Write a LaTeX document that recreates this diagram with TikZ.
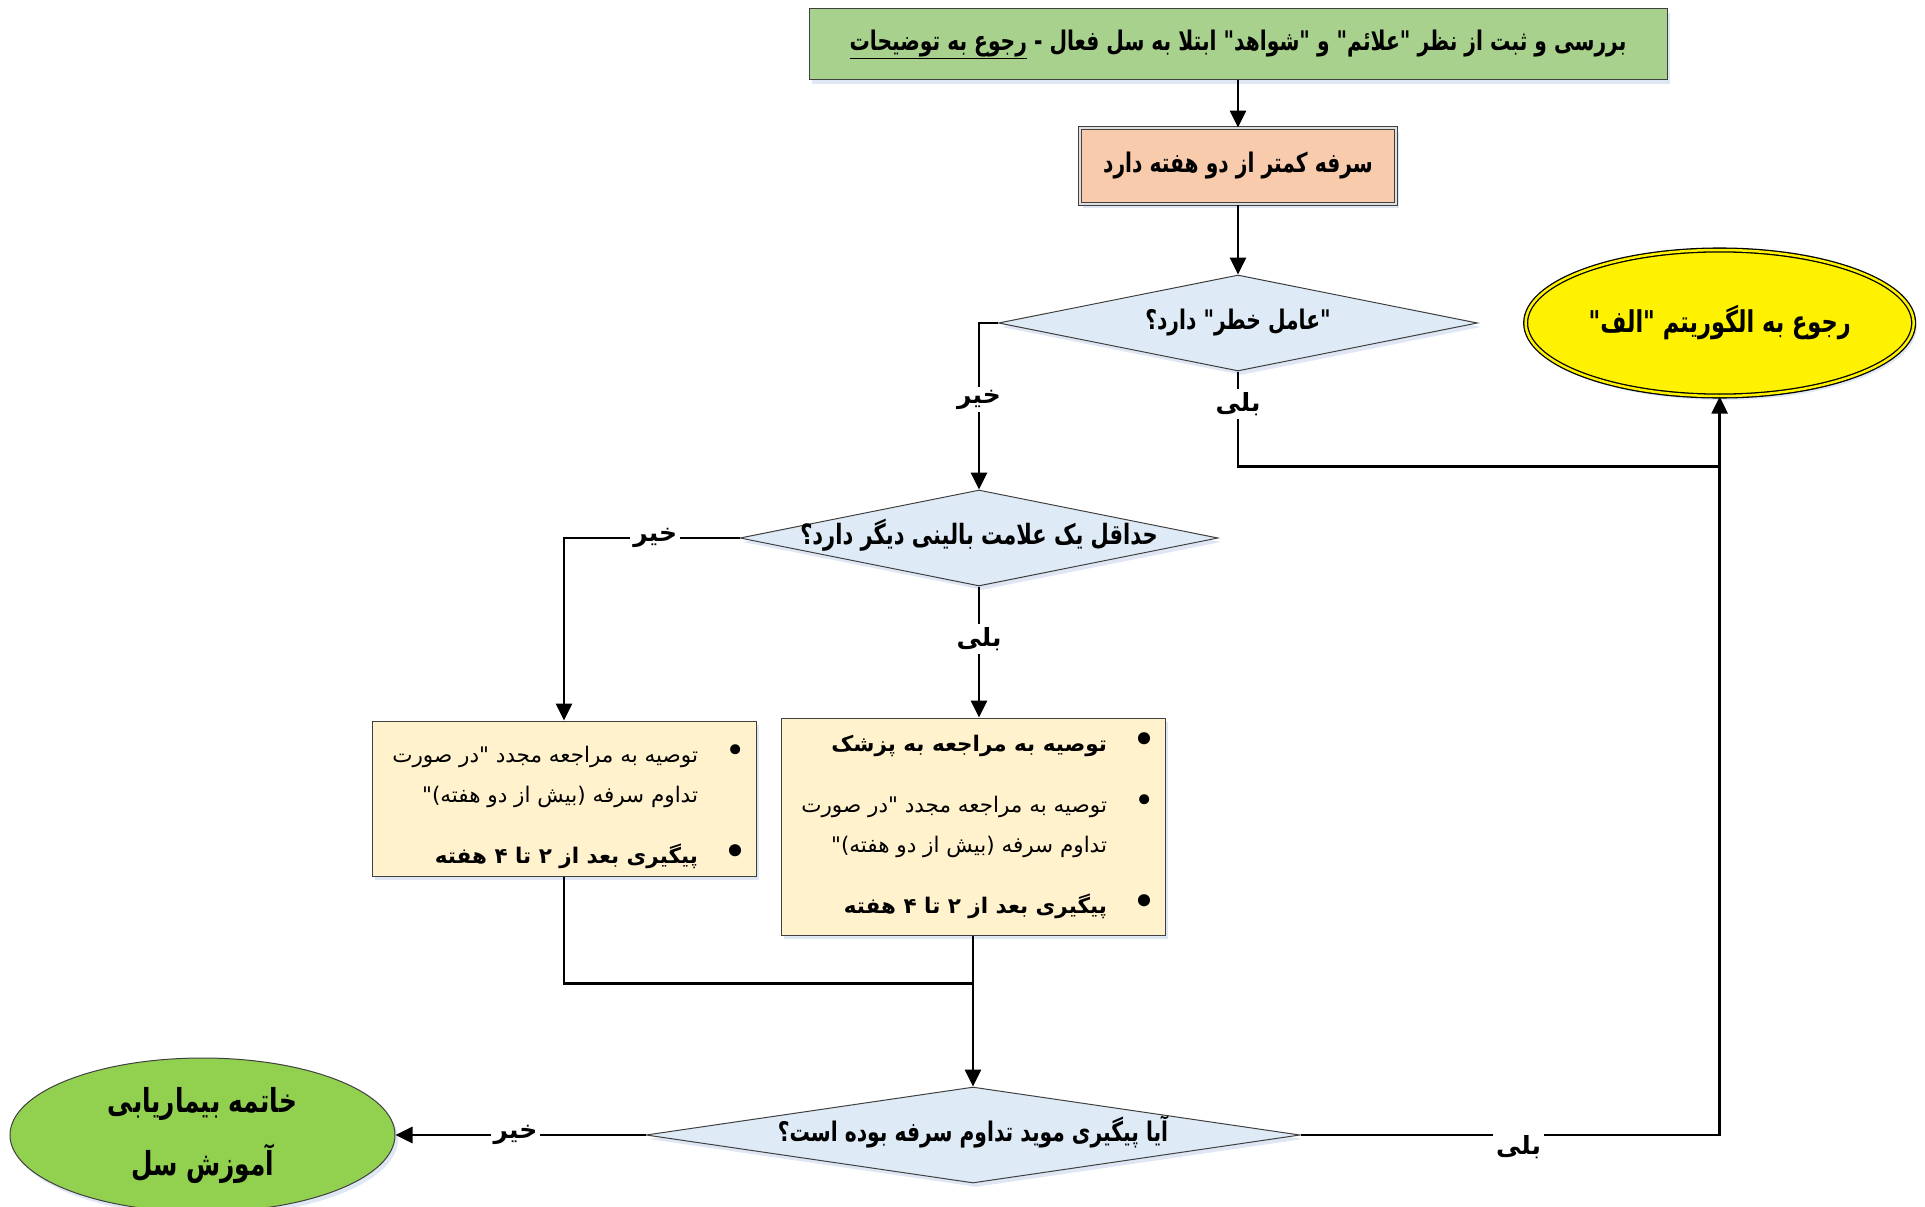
\documentclass[tikz,border=0pt]{standalone}
\usepackage{fontspec}
\usetikzlibrary{positioning,calc,arrows.meta,shapes.geometric,shadows}
\newfontfamily\arabicfont[Script=Arabic, FakeStretch=0.75]{DejaVu Sans}
\newfontfamily\arabicwide[Script=Arabic]{DejaVu Sans}
\TeXXeTstate=1
\newcommand{\fa}[1]{\beginR#1\endR}
\newcommand{\bul}{\makebox[58pt][r]{\smash{\scalebox{1.6}{\textbullet}}\hspace{10pt}}}
% bullet line and hanging line of the advice boxes
\newcommand{\bline}[1]{\makebox[384pt][r]{\beginR#1\endR\bul}}
\newcommand{\iline}[1]{\makebox[384pt][r]{\beginR#1\endR\hspace*{58pt}}}
\definecolor{boxline}{RGB}{64,64,64}
\definecolor{topgreen}{RGB}{169,209,142}
\definecolor{coughpink}{RGB}{248,203,173}
\definecolor{decblue}{RGB}{222,235,247}
\definecolor{notebox}{RGB}{255,242,204}
\definecolor{endgreen}{RGB}{146,208,80}
\definecolor{shadeblue}{RGB}{200,215,235}

\begin{document}
\begin{tikzpicture}[x=1pt, y=-1pt,
    softshade/.style={drop shadow={shadow xshift=3pt, shadow yshift=-4pt, fill=shadeblue, opacity=0.6}},
    stepbox/.style={rectangle, draw=boxline, line width=1pt, fill=#1, inner sep=0pt, softshade,
        font=\arabicfont\bfseries\fontsize{27}{30}\selectfont},
    stepbox/.default={topgreen},
    decide/.style={diamond, aspect=5, draw=boxline, fill=decblue, line width=1pt, inner sep=0pt,
        text height=12pt, text depth=0pt, softshade, font=\arabicfont\bfseries\fontsize{27}{30}\selectfont},
    notes/.style={rectangle, draw=boxline, line width=1pt, fill=notebox, inner sep=0pt, softshade,
        minimum width=384pt, align=right, font=\arabicwide\fontsize{21.5}{40}\selectfont},
    term/.style={ellipse, draw=boxline, line width=1pt, fill=#1, inner sep=0pt, softshade, align=center},
    lbl/.style={fill=white, inner sep=3pt, font=\arabicwide\bfseries\fontsize{25}{28}\selectfont},
    flowline/.style={line width=2.8pt},
    flowarr/.style={flowline, -{Triangle[length=17pt, width=16pt]}},
    ]
    \useasboundingbox (0,0) rectangle (1925,1207);

    %% screening steps
    \node[stepbox, minimum width=858pt, minimum height=71pt] (check) at (1238,44.5)
        {\fa{بررسی و ثبت از نظر "علائم" و "شواهد" ابتلا به سل فعال - \underline{\fa{رجوع به توضیحات}}}};
    \node[stepbox=coughpink, double=gray!25, double distance=2pt, minimum width=316pt, minimum height=76pt,
        below=47pt of check] (cough) {\fa{سرفه کمتر از دو هفته دارد}};

    %% decisions
    \node[decide, minimum width=479pt, minimum height=96pt, below=70pt of cough] (risk)
        {\fa{"عامل خطر" دارد؟}};
    \node[term=yellow, draw=black, double=yellow, double distance=2.5pt, line width=1.3pt,
        minimum width=388pt, minimum height=146pt, right=47pt of risk,
        font=\arabicfont\bfseries\fontsize{30}{33}\selectfont] (algA) {\fa{رجوع به  الگوریتم "الف"}};
    \node[decide, minimum width=478pt, minimum height=96pt, font=\arabicfont\bfseries\fontsize{28}{30}\selectfont]
        (sign) at (979,538) {\fa{حداقل یک علامت بالینی دیگر دارد؟}};

    %% advice boxes
    \node[notes, minimum height=217pt, below=131pt of sign, xshift=-6pt] (refer) {
        \bline{\bfseries توصیه به مراجعه به پزشک}\\[21pt]
        \bline{توصیه به مراجعه مجدد "در صورت}\\
        \iline{تداوم سرفه (بیش از دو هفته)"}\\[21pt]
        \bline{\bfseries پیگیری بعد از  ۲ تا ۴ هفته}
    };
    \node[notes, minimum height=155pt, left=24pt of refer.north west, anchor=north east, yshift=-3pt] (recheck) {
        \bline{توصیه به مراجعه مجدد "در صورت}\rule{0pt}{34pt}\\
        \iline{تداوم سرفه (بیش از دو هفته)"}\\[21pt]
        \bline{\bfseries پیگیری بعد از  ۲ تا ۴ هفته}
    };

    %% follow-up decision and end
    \node[decide, minimum width=654pt, minimum height=96pt, below=151pt of refer] (follow)
        {\fa{آیا پیگیری موید تداوم سرفه بوده است؟}};
    \node[term=endgreen, minimum width=385pt, minimum height=154pt, left=250pt of follow,
        font=\arabicfont\bfseries\fontsize{33}{63}\selectfont] (endnode)
        {\fa{خاتمه بیماریابی}\\ \fa{آموزش سل}};

    %% junctions
    \coordinate (joinA) at ($(algA.south)+(0,70)$);
    \coordinate (joinF) at ($(follow.north)+(0,-103)$);

    %% arrows
    \draw[flowarr] (check.south) -- (cough.north);
    \draw[flowarr] (cough.south) -- (risk.north);
    % risk factor
    \draw[flowarr]  (risk.west) -| node[lbl, pos=0.73] {\fa{خیر}} (sign.north);
    \draw[flowline] (risk.south) |- node[lbl, pos=0.17] {\fa{بلی}} (joinA);
    % clinical sign
    \draw[flowarr] (sign.west) -| node[lbl, pos=0.24] {\fa{خیر}} (recheck.north);
    \draw[flowarr] (sign.south) -- node[lbl, pos=0.4] {\fa{بلی}} (sign.south |- refer.north);
    % towards follow-up
    \draw[flowline] (recheck.south) |- (joinF);
    \draw[flowarr]  (refer.south) -- (follow.north);
    % follow-up result
    \draw[flowarr] (follow.west) -- node[lbl, pos=0.52] {\fa{خیر}} (endnode.east);
    \draw[flowarr] (follow.east) -| node[lbl, pos=0.26, yshift=-12pt] {\fa{بلی}} (algA.south);

\end{tikzpicture}
\end{document}
